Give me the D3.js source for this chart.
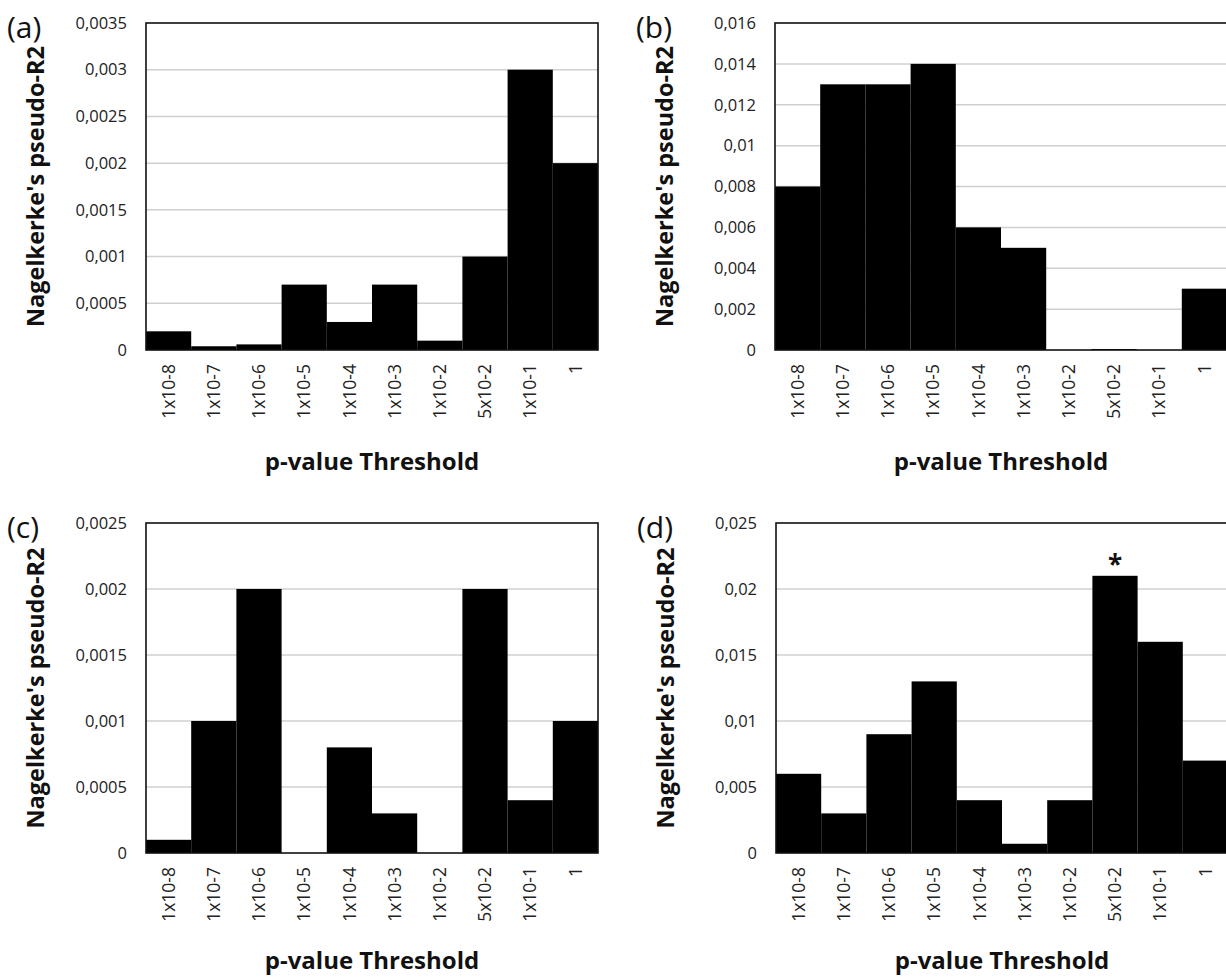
<!DOCTYPE html>
<html><head><meta charset="utf-8">
<script src="https://cdn.jsdelivr.net/npm/d3@7"></script>
<style>body{margin:0;background:#fff} svg{display:block}</style>
</head><body><svg id="c" width="1226" height="977"></svg>
<script>
const categories = ["1x10-8","1x10-7","1x10-6","1x10-5","1x10-4","1x10-3","1x10-2","5x10-2","1x10-1","1"];
const valuesA = [0.0002, 0.00004, 0.00006, 0.0007, 0.0003, 0.0007, 0.0001, 0.001, 0.003, 0.002];
const valuesB = [0.008, 0.013, 0.013, 0.014, 0.006, 0.005, 0, 0.00005, 0, 0.003];
const valuesC = [0.0001, 0.001, 0.002, 0, 0.0008, 0.0003, 0, 0.002, 0.0004, 0.001];
const valuesD = [0.006, 0.003, 0.009, 0.013, 0.004, 0.0007, 0.004, 0.021, 0.016, 0.007];
const ticksA = [0, 0.0005, 0.001, 0.0015, 0.002, 0.0025, 0.003, 0.0035];
const ticksB = [0, 0.002, 0.004, 0.006, 0.008, 0.01, 0.012, 0.014, 0.016];
const ticksC = [0, 0.0005, 0.001, 0.0015, 0.002, 0.0025];
const ticksD = [0, 0.005, 0.01, 0.015, 0.02, 0.025];
const panelLabels = ["(a)", "(b)", "(c)", "(d)"];
const yTitle = "Nagelkerke's pseudo-R2";
const xTitle = "p-value Threshold";
const markerCategory = "5x10-2";
const markerText = "*";

const FONT = "'Open Sans', sans-serif";
const fmt = d3.formatLocale({decimal: ",", thousands: ".", grouping: [3], currency: ["", ""]}).format("~g");

const panels = [
  {label: panelLabels[0], values: valuesA, ticks: ticksA, x0: 146, x1: 598, y0: 23, y1: 350, titleY: 470, marker: false},
  {label: panelLabels[1], values: valuesB, ticks: ticksB, x0: 775, x1: 1227, y0: 23, y1: 350, titleY: 470, marker: false},
  {label: panelLabels[2], values: valuesC, ticks: ticksC, x0: 146, x1: 598, y0: 523, y1: 853, titleY: 969, marker: false},
  {label: panelLabels[3], values: valuesD, ticks: ticksD, x0: 776, x1: 1228, y0: 523, y1: 853, titleY: 969, marker: true}
];

const svg = d3.select("#c");
svg.append("rect").attr("width", 1226).attr("height", 977).attr("fill", "#fff");

panels.forEach(p => {
  const g = svg.append("g");
  const x = d3.scaleBand().domain(categories).range([p.x0, p.x1]).padding(0);
  const y = d3.scaleLinear().domain([0, d3.max(p.ticks)]).range([p.y1, p.y0]);

  // gridlines
  g.append("g").selectAll("line").data(p.ticks.slice(1, -1)).join("line")
    .attr("x1", p.x0).attr("x2", p.x1)
    .attr("y1", d => y(d)).attr("y2", d => y(d))
    .attr("stroke", "#d0d0d0").attr("stroke-width", 1.5);

  // bars
  g.append("g").selectAll("rect").data(p.values.map((v, i) => ({c: categories[i], v})))
    .join("rect")
    .attr("x", d => x(d.c)).attr("width", x.bandwidth())
    .attr("y", d => y(d.v)).attr("height", d => p.y1 - y(d.v))
    .attr("fill", "#000");

  // frame
  g.append("rect").attr("x", p.x0).attr("y", p.y0)
    .attr("width", p.x1 - p.x0).attr("height", p.y1 - p.y0)
    .attr("fill", "none").attr("stroke", "#111").attr("stroke-width", 1.6);

  // y axis
  const ya = g.append("g").attr("transform", `translate(${p.x0},0)`)
    .call(d3.axisLeft(y).tickValues(p.ticks).tickSize(0).tickPadding(19).tickFormat(fmt));
  ya.select(".domain").remove();
  ya.selectAll("text").attr("font-family", FONT).attr("font-size", 16.5).attr("fill", "#222");

  // x axis
  const xa = g.append("g").attr("transform", `translate(0,${p.y1})`)
    .call(d3.axisBottom(x).tickSize(0));
  xa.select(".domain").remove();
  xa.selectAll("text")
    .attr("transform", "rotate(-90)")
    .attr("x", -14).attr("y", 0).attr("dy", "0.35em")
    .attr("text-anchor", "end")
    .attr("font-family", FONT).attr("font-size", 17.5).attr("fill", "#222");

  // titles
  const cy = (p.y0 + p.y1) / 2;
  g.append("text").attr("transform", `translate(${p.x0 - 110},${cy}) rotate(-90)`)
    .attr("text-anchor", "middle").attr("dy", "0.35em")
    .attr("font-family", FONT).attr("font-weight", "bold").attr("font-size", 23.5)
    .attr("fill", "#111").text(yTitle);

  g.append("text").attr("x", (p.x0 + p.x1) / 2).attr("y", p.titleY)
    .attr("text-anchor", "middle")
    .attr("font-family", FONT).attr("font-weight", "bold").attr("font-size", 24)
    .attr("fill", "#111").text(xTitle);

  g.append("text").attr("x", p.x0 - 139).attr("y", p.y0 + 15)
    .attr("font-family", FONT).attr("font-size", 30).attr("fill", "#111").text(p.label);

  if (p.marker) {
    const idx = categories.indexOf(markerCategory);
    g.append("text").attr("x", x(markerCategory) + x.bandwidth() / 2)
      .attr("y", y(p.values[idx]) - 2)
      .attr("text-anchor", "middle")
      .attr("font-family", FONT).attr("font-weight", "bold").attr("font-size", 26)
      .attr("fill", "#111").text(markerText);
  }
});
</script></body></html>
